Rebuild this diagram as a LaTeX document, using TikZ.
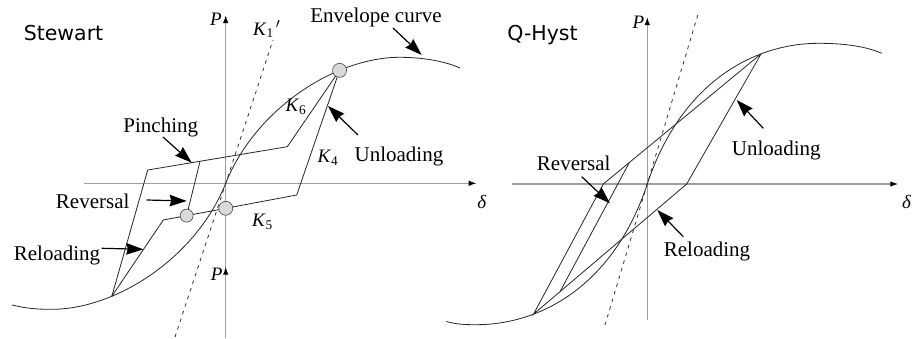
\documentclass[tikz,border=0pt]{standalone}
\usepackage{fontspec}
\setmainfont{Liberation Serif}
\newfontfamily\sanslab{DejaVu Sans}
\usetikzlibrary{arrows.meta,calc}
\begin{document}
\begin{tikzpicture}[x=1pt,y=-1pt,
  curve/.style={line width=0.8pt,black!85},
  axisline/.style={line width=1.3pt,gray!75,-{Latex[length=8pt,width=5.5pt,black]}},
  dashline/.style={line width=0.8pt,black!80,dash pattern=on 3.5pt off 4.5pt},
  pointer/.style={line width=1.2pt,-{Stealth[length=17pt,width=11.5pt,inset=1.5pt]}},
  lab/.style={font=\fontsize{21}{24}\selectfont,inner sep=0pt,anchor=base},
  klab/.style={font=\fontsize{19}{22}\selectfont,inner sep=0pt,anchor=base},
  ttl/.style={font=\sanslab\fontsize{20.5}{24}\selectfont,inner sep=0pt,anchor=base},
  circ/.style={circle,draw=gray!55!black,fill=gray!30,line width=0.6pt,minimum size=14pt,inner sep=0pt}
]
\useasboundingbox (0,0) rectangle (914,338);

% ---------------- Left panel (Stewart) ----------------
\coordinate (lxs) at (84,183.3); \coordinate (lxe) at (476.7,183.3);
\draw[axisline] (lxs) -- (lxe);
\coordinate (lys) at (225.7,338); \coordinate (lye) at (225.7,15);
\draw[axisline] (lys) -- (lye);
\coordinate (lp2s) at (225.7,290); \coordinate (lp2e) at (225.7,266.7);
\draw[axisline] (lp2s) -- (lp2e);
\coordinate (lk1a) at (175,337); \coordinate (lk1b) at (273,40);
\draw[dashline] (lk1a) -- (lk1b);

\begin{scope}[shift={(225.7,183.3)},yscale=-1]
\draw[curve] (-213.7,-121.7) .. controls (-200,-125) and (-190,-126) .. (-174,-126)
  .. controls (-110,-126) and (-30,-75) .. (0,0) coordinate[pos=0.3] (LB)
  .. controls (30,75) and (110,126) .. (174,126) coordinate[pos=0.7] (LT)
  .. controls (200,126) and (222,121) .. (234.3,115.3);
\end{scope}

\coordinate (LA1) at (287.3,146.7);
\coordinate (LA2) at (147.7,170);
\coordinate (LA3) at (296.7,195);
\coordinate (LA4) at (163.3,220);
\draw[curve] (LT) -- (LA1) -- (LA2) -- (LB);
\draw[curve] (LT) -- (LA3) -- (LA4) -- (LB);
\coordinate (LP1) at ($(LA1)!0.625!(LA2)$);
\coordinate (LC1) at ($(LA3)!0.532!(LA4)$);
\coordinate (LC2) at ($(LA3)!0.825!(LA4)$);
\draw[curve] (LP1) -- (LC2);
\node[circ] (lcT) at (LT) {};
\node[circ] (lc1) at (LC1) {};
\node[circ,minimum size=13pt] (lc2) at (LC2) {};

\node[ttl] (stw) at (63.5,40) {Stewart};
\node[lab] (env) at (376,22.7) {Envelope curve};
\node[lab] (pin) at (160.8,132.7) {Pinching};
\node[lab] (unl) at (399,161.7) {Unloading};
\node[lab] (rev) at (92.7,208.3) {Reversal};
\node[lab] (rel) at (57,260) {Reloading};
\node[klab] (k1) at (266.7,35) {\textit{K}\textsubscript{1}\textsuperscript{\,$\prime$}};
\node[klab] (k6) at (296,111.7) {\textit{K}\textsubscript{6}};
\node[klab] (k4) at (328,162.3) {\textit{K}\textsubscript{4}};
\node[klab] (k5) at (262.5,226.7) {\textit{K}\textsubscript{5}};
\node[klab] (lP) at (216,25) {\textit{P}};
\node[klab] (lP2) at (216.7,280) {\textit{P}};
\node[klab] (ld) at (482,208) {\textit{δ}};

\coordinate (aenv1) at (393,28); \coordinate (aenv2) at (421.7,55);
\draw[pointer] (aenv1) -- (aenv2);
\coordinate (aunl1) at (358,135); \coordinate (aunl2) at (328,106);
\draw[pointer] (aunl1) -- (aunl2);
\coordinate (apin1) at (163,137); \coordinate (apin2) at (191.7,162.7);
\draw[pointer] (apin1) -- (apin2);
\coordinate (arev1) at (146.7,200); \coordinate (arev2) at (186.7,201);
\draw[pointer] (arev1) -- (arev2);
\coordinate (arel1) at (101.7,248.3); \coordinate (arel2) at (143.3,249.3);
\draw[pointer] (arel1) -- (arel2);

% ---------------- Right panel (Q-Hyst) ----------------
\coordinate (rxs) at (511.7,184); \coordinate (rxe) at (898.3,184);
\draw[axisline] (rxs) -- (rxe);
\coordinate (rys) at (647.3,320); \coordinate (rye) at (647.3,17);
\draw[axisline] (rys) -- (rye);
\coordinate (rk1a) at (605,325); \coordinate (rk1b) at (698.3,13.3);
\draw[dashline] (rk1a) -- (rk1b);

\begin{scope}[shift={(647.3,184)},yscale=-1]
\draw[curve] (-201,-137.5) .. controls (-190,-140.5) and (-182,-140.7) .. (-171,-140.7)
  .. controls (-110,-140.7) and (-35,-105) .. (0,0) coordinate[pos=0.3] (RB)
  .. controls (35,105) and (110,140.7) .. (171,140.7) coordinate[pos=0.7] (RT)
  .. controls (200,140.7) and (220,137) .. (234.4,130.7);
\end{scope}

\coordinate (RU1) at (686.7,184);
\coordinate (RL1) at (603.3,184);
\draw[curve] (RT) -- (RU1) -- (RB) -- (RL1) -- (RT);
\coordinate (RR1) at ($(RU1)!0.827!(RB)$);
\coordinate (RR2) at ($(RL1)!0.165!(RT)$);
\draw[curve] (RR1) -- (RR2);

\node[ttl] (qh) at (542.5,40.7) {Q-Hyst};
\node[klab] (rP) at (638.3,28.3) {\textit{P}};
\node[klab] (rd) at (906.7,208.3) {\textit{δ}};
\node[lab] (rrev) at (573.7,170) {Reversal};
\node[lab] (runl) at (776.3,155) {Unloading};
\node[lab] (rrel) at (707,256.7) {Reloading};

\coordinate (brev1) at (581.7,176.7); \coordinate (brev2) at (610,203.3);
\draw[pointer] (brev1) -- (brev2);
\coordinate (bunl1) at (763.3,128.3); \coordinate (bunl2) at (736.7,100);
\draw[pointer] (bunl1) -- (bunl2);
\coordinate (brel1) at (683.3,236.7); \coordinate (brel2) at (657.3,210);
\draw[pointer] (brel1) -- (brel2);
\end{tikzpicture}
\end{document}
